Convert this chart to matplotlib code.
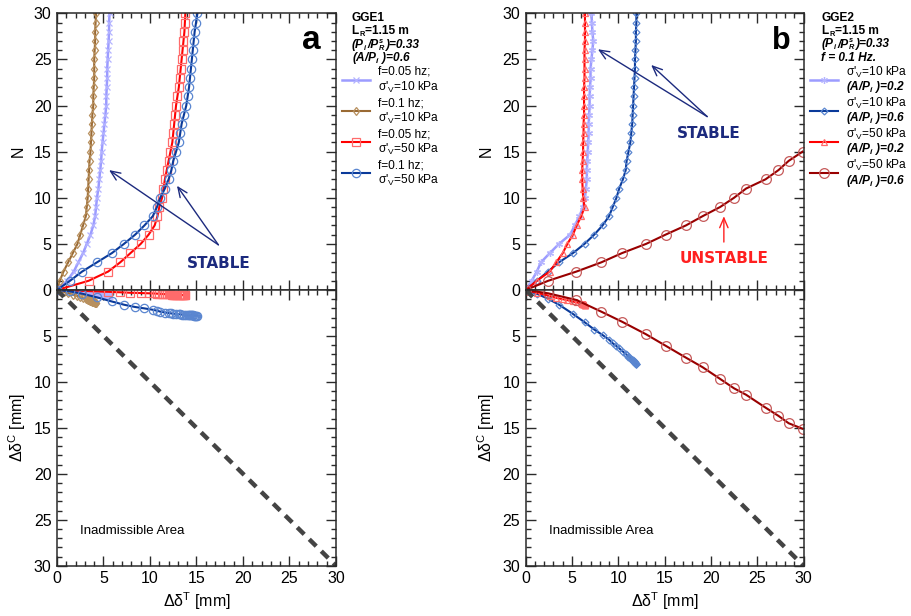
import matplotlib
matplotlib.use('Agg')
import matplotlib.pyplot as plt
from matplotlib.lines import Line2D
from matplotlib.ticker import MultipleLocator, FixedLocator, FixedFormatter

plt.rcParams['font.family'] = ['Liberation Sans', 'DejaVu Sans']
plt.rcParams['mathtext.fontset'] = 'custom'
plt.rcParams['mathtext.rm'] = 'Liberation Sans'
plt.rcParams['mathtext.it'] = 'Liberation Sans:italic:bold'
plt.rcParams['mathtext.bf'] = 'Liberation Sans:bold'

# ---------------- data: panel a (GGE1) ----------------
N_a = list(range(31))
a_lb_T = [0, 1.1, 1.8, 2.3, 2.8, 3.2, 3.6, 3.9, 4.1, 4.2, 4.3, 4.45, 4.55, 4.65, 4.75, 4.8,
          4.9, 5.0, 5.1, 5.2, 5.3, 5.3, 5.35, 5.4, 5.4, 5.45, 5.5, 5.55, 5.6, 5.6, 5.65]
a_lb_C = [0, 0.1, 0.17, 0.22, 0.27, 0.32, 0.36, 0.4, 0.42, 0.44, 0.45, 0.47, 0.49, 0.5, 0.52, 0.53,
          0.55, 0.56, 0.58, 0.6, 0.61, 0.62, 0.63, 0.64, 0.65, 0.66, 0.67, 0.68, 0.69, 0.7, 0.7]
a_br_T = [0, 0.3, 0.7, 1.2, 1.7, 2.2, 2.5, 2.8, 3.1, 3.2, 3.3, 3.35, 3.4, 3.45, 3.5, 3.6,
          3.65, 3.7, 3.75, 3.8, 3.9, 3.9, 3.95, 4.0, 4.0, 4.0, 4.05, 4.1, 4.1, 4.15, 4.2]
a_br_C = [0, 0.08, 0.2, 0.35, 0.5, 0.65, 0.75, 0.85, 0.95, 1.0, 1.05, 1.08, 1.1, 1.13, 1.15, 1.18,
          1.2, 1.22, 1.24, 1.26, 1.28, 1.3, 1.31, 1.32, 1.34, 1.35, 1.36, 1.38, 1.39, 1.4, 1.42]
a_rd_T = [0, 3.4, 5.5, 6.8, 7.9, 9.0, 9.85, 10.5, 10.8, 11.0, 11.3, 11.45, 11.6, 11.8, 12.0, 12.2,
          12.4, 12.5, 12.6, 12.7, 12.8, 12.95, 13.1, 13.2, 13.3, 13.4, 13.5, 13.6, 13.7, 13.75, 13.8]
a_rd_C = [0, 0.12, 0.2, 0.25, 0.3, 0.33, 0.36, 0.38, 0.4, 0.42, 0.43, 0.44, 0.45, 0.46, 0.47, 0.48,
          0.49, 0.5, 0.5, 0.51, 0.52, 0.52, 0.53, 0.54, 0.54, 0.55, 0.55, 0.56, 0.56, 0.57, 0.57]
a_bl_T = [0, 1.4, 2.7, 4.3, 5.9, 7.2, 8.4, 9.4, 10.3, 10.75, 11.1, 11.6, 12.0, 12.3, 12.5, 12.8,
          13.1, 13.25, 13.4, 13.65, 13.9, 14.05, 14.2, 14.3, 14.4, 14.5, 14.6, 14.7, 14.8, 14.95, 15.1]
a_bl_C = [0, 0.15, 0.4, 0.8, 1.25, 1.6, 1.85, 2.0, 2.15, 2.25, 2.35, 2.45, 2.5, 2.55, 2.58, 2.6,
          2.63, 2.65, 2.67, 2.69, 2.7, 2.72, 2.73, 2.74, 2.75, 2.76, 2.77, 2.78, 2.79, 2.8, 2.82]

# ---------------- data: panel b (GGE2) ----------------
N_b = list(range(31))
b_lb_T = [0, 0.65, 1.2, 1.65, 2.6, 3.6, 4.8, 5.3, 5.8, 6.2, 6.4, 6.5, 6.6, 6.6, 6.65, 6.7,
          6.75, 6.8, 6.8, 6.85, 6.9, 6.9, 6.95, 7.0, 7.0, 7.1, 7.2, 7.3, 7.2, 7.15, 7.1]
b_lb_Tc = [0, 0.3, 0.6, 0.9]
b_lb_C = [0, 0.1, 0.15, 0.2]
b_bl_T = [0, 1.2, 2.4, 3.6, 5.1, 6.35, 7.4, 8.3, 9.0, 9.4, 9.8, 10.1, 10.5, 10.8, 10.9, 11.1,
          11.3, 11.4, 11.5, 11.55, 11.6, 11.65, 11.7, 11.75, 11.8, 11.8, 11.85, 11.9, 11.9, 11.95, 11.95]
b_bl_C = [0, 0.4, 0.95, 1.6, 2.6, 3.5, 4.3, 4.9, 5.4, 5.8, 6.1, 6.35, 6.7, 6.95, 7.05, 7.25,
          7.4, 7.5, 7.6, 7.65, 7.7, 7.75, 7.8, 7.85, 7.9, 7.9, 7.95, 8.0, 8.0, 8.05, 8.05]
b_rd_T = [0, 1.2, 2.6, 3.3, 4.0, 4.5, 5.1, 5.5, 6.0, 6.35, 6.2, 6.15, 6.1, 6.1, 6.15, 6.2,
          6.2, 6.25, 6.25, 6.3, 6.3, 6.3, 6.3, 6.35, 6.35, 6.35, 6.35, 6.4, 6.4, 6.4, 6.4]
b_rd_C = [0, 0.3, 0.65, 0.85, 1.0, 1.1, 1.25, 1.35, 1.45, 1.5, 1.5, 1.5, 1.5, 1.52, 1.52, 1.53,
          1.54, 1.55, 1.55, 1.56, 1.56, 1.57, 1.57, 1.58, 1.58, 1.59, 1.59, 1.6, 1.6, 1.6, 1.6]
N_b_dr = list(range(16))
b_dr_T = [0, 2.43, 5.48, 8.17, 10.4, 13.0, 15.1, 17.3, 19.1, 21.0, 22.5, 23.8, 25.9, 27.3, 28.4, 29.9]
b_dr_C = [0, 0.36, 1.09, 2.36, 3.45, 4.82, 6.06, 7.36, 8.4, 9.68, 10.7, 11.4, 12.8, 13.7, 14.5, 15.1]

limit_line = [0, 30]
ticks = [0, 5, 10, 15, 20, 25, 30]

# ---------------- styles ----------------
LB, LBm = '#9c9cff', '#b4b4ff'
BR, BRm = '#9a6a34', '#b8905e'
RD, RDm = '#ff0000', '#ff6b6b'
BL, BLm = '#0a3a9a', '#5a86d0'
DR, DRm = '#990000', '#c65a5a'
NAVY = '#1c2a7e'
SPINE = '#2a2a2a'

fig = plt.figure(figsize=(9.12, 6.16), dpi=100)
W, H = 912.0, 616.0
renderer = fig.canvas.get_renderer()


def axes_px(x0, y0, x1, y1):
    return fig.add_axes([x0 / W, 1 - y1 / H, (x1 - x0) / W, (y1 - y0) / H])


def style(ax, top_panel):
    ax.set_xlim(0, 30)
    ax.set_ylim(0, 30)
    if not top_panel:
        ax.invert_yaxis()
    ax.xaxis.set_major_locator(FixedLocator(ticks))
    ax.yaxis.set_major_locator(FixedLocator(ticks))
    ax.xaxis.set_minor_locator(MultipleLocator(1))
    ax.yaxis.set_minor_locator(MultipleLocator(1))
    ax.tick_params(which='both', direction='in', top=True, right=True, color=SPINE,
                   labelsize=11.5, width=1.0, pad=4)
    ax.tick_params(which='major', length=7)
    ax.tick_params(which='minor', length=3.5)
    for s in ax.spines.values():
        s.set_color(SPINE)
        s.set_linewidth(1.1)
    if top_panel:
        ax.tick_params(labelbottom=False)
    else:
        ax.yaxis.set_major_formatter(FixedFormatter(['', '5', '10', '15', '20', '25', '30']))


def series(ax, x, y, color, mcolor, marker, ms, lw=1.5, mew=0.9):
    ax.plot(x, y, color=color, lw=lw, marker=marker, ms=ms, mfc='none', mec=mcolor, mew=mew,
            clip_on=True)


# ================= panel a =================
axa_t = axes_px(57, 13.3, 336, 290)
axa_b = axes_px(57, 290, 336, 565.7)
style(axa_t, True)
style(axa_b, False)

series(axa_t, a_lb_T, N_a, LB, LBm, 'x', 4.5, lw=1.8)
series(axa_t, a_br_T, N_a, BR, BRm, 'd', 4.5)
series(axa_t, a_rd_T, N_a, RD, RDm, 's', 6)
series(axa_t, a_bl_T, N_a, BL, BLm, 'o', 6)

series(axa_b, a_lb_T, a_lb_C, LB, LBm, 'x', 4.5, lw=1.8)
series(axa_b, a_br_T, a_br_C, BR, BRm, 'd', 4.5)
series(axa_b, a_rd_T, a_rd_C, RD, RDm, 's', 6)
series(axa_b, a_bl_T, a_bl_C, BL, BLm, 'o', 6)
axa_b.plot(limit_line, limit_line, color='#444444', lw=3.2, dashes=(2.2, 1.6))

axa_t.set_ylabel('N', fontsize=11.5, labelpad=6)
axa_b.set_ylabel('Δδ$^{\\mathrm{C}}$ [mm]', fontsize=11.5, labelpad=4)
axa_b.set_xlabel('Δδ$^{\\mathrm{T}}$ [mm]', fontsize=11.5, labelpad=3)
axa_b.text(2.5, 26.2, 'Inadmissible Area', fontsize=9.5, va='center', ha='left')
axa_t.text(27.3, 27.0, 'a', fontsize=24, fontweight='bold', ha='center', va='center')

axa_t.text(17.4, 2.9, 'STABLE', family='DejaVu Sans', fontweight='bold', fontsize=11,
           color=NAVY, ha='center', va='center')
for tip in [(5.6, 13.0), (12.9, 11.3)]:
    axa_t.annotate('', xy=tip, xytext=(17.35, 4.9),
                   arrowprops=dict(arrowstyle='->,head_length=0.7,head_width=0.3',
                                   color=NAVY, lw=1.0, shrinkA=0, shrinkB=0))

# ================= panel b =================
axb_t = axes_px(525.7, 13.3, 803.5, 290)
axb_b = axes_px(525.7, 290, 803.5, 565.7)
style(axb_t, True)
style(axb_b, False)

series(axb_t, b_lb_T, N_b, LB, LBm, (6, 2, 0), 5, lw=1.8)
series(axb_t, b_bl_T, N_b, BL, BLm, 'D', 3.5)
series(axb_t, b_rd_T, N_b, RD, RDm, '^', 5)
series(axb_t, b_dr_T, N_b_dr, DR, DRm, 'o', 7)

series(axb_b, b_lb_Tc, b_lb_C, LB, LBm, (6, 2, 0), 5, lw=1.8)
series(axb_b, b_bl_T, b_bl_C, BL, BLm, 'D', 3.5)
series(axb_b, b_rd_T, b_rd_C, RD, RDm, '^', 5)
series(axb_b, b_dr_T, b_dr_C, DR, DRm, 'o', 7)
axb_b.plot(limit_line, limit_line, color='#444444', lw=3.2, dashes=(2.2, 1.6))

axb_t.set_ylabel('N', fontsize=11.5, labelpad=6)
axb_b.set_ylabel('Δδ$^{\\mathrm{C}}$ [mm]', fontsize=11.5, labelpad=4)
axb_b.set_xlabel('Δδ$^{\\mathrm{T}}$ [mm]', fontsize=11.5, labelpad=3)
axb_b.text(2.5, 26.2, 'Inadmissible Area', fontsize=9.5, va='center', ha='left')
axb_t.text(27.6, 27.0, 'b', fontsize=22, fontweight='bold', ha='center', va='center')

axb_t.text(19.8, 17.0, 'STABLE', family='DejaVu Sans', fontweight='bold', fontsize=11,
           color=NAVY, ha='center', va='center')
for tip in [(7.8, 26.1), (13.55, 24.4)]:
    axb_t.annotate('', xy=tip, xytext=(19.6, 18.8),
                   arrowprops=dict(arrowstyle='->,head_length=0.7,head_width=0.3',
                                   color=NAVY, lw=1.0, shrinkA=0, shrinkB=0))
axb_t.text(21.4, 3.4, 'UNSTABLE', family='DejaVu Sans', fontweight='bold', fontsize=11,
           color='#ff2020', ha='center', va='center')
axb_t.annotate('', xy=(21.4, 8.0), xytext=(21.4, 5.2),
               arrowprops=dict(arrowstyle='->,head_length=0.7,head_width=0.3',
                               color='#ff2020', lw=1.0, shrinkA=0, shrinkB=0))

# ================= headers and legends =================
FS = 8.6


def ftext(x, y, s, **kw):
    fig.text(x / W, 1 - y / H, s, fontsize=FS, va='center', ha='left', **kw)


def rich(x, y, parts, **kw):
    """parts: list of (text, kind); kind in n / sub / sup / supstack / gap"""
    cur = x
    prev_start = x
    prev_w = 0.0
    for s, kind in parts:
        if kind == 'gap':
            cur += s
            continue
        if kind == 'n':
            fs, dy, x0 = FS, 0.0, cur
        elif kind == 'sub':
            fs, dy, x0 = FS * 0.62, 3.2, cur
        elif kind == 'sup':
            fs, dy, x0 = FS * 0.62, -3.6, cur
        else:  # superscript stacked over previous subscript
            fs, dy, x0 = FS * 0.62, -3.6, prev_start
        t = fig.text(x0 / W, 1 - (y + dy) / H, s, fontsize=fs, va='center', ha='left', **kw)
        w = t.get_window_extent(renderer).width
        if kind == 'supstack':
            cur = prev_start + max(prev_w, w) + 0.4
        else:
            prev_start, prev_w = x0, w
            cur = x0 + w + 0.4


def entry(x0, x1, y, color, mcolor, marker, ms, lw=1.5):
    fig.add_artist(Line2D([x0 / W, x1 / W], [1 - y / H, 1 - y / H], color=color, lw=lw,
                          transform=fig.transFigure))
    fig.add_artist(Line2D([(x0 + x1) / 2 / W], [1 - y / H], color=color, marker=marker, ms=ms,
                          mfc='none', mec=mcolor, mew=0.9, transform=fig.transFigure))


BI = dict(fontweight='bold', fontstyle='italic')
LR_parts = [('L', 'n'), ('R', 'sub'), ('=1.15 m', 'n')]
PR_parts = [('(P', 'n'), ('i', 'sub'), (1.5, 'gap'), ('/P', 'n'), ('R', 'sub'), ('s', 'supstack'),
            (')=0.33', 'n')]

# panel a header
hx = 351.5
ftext(hx, 18, 'GGE1', fontweight='bold')
rich(hx, 31, LR_parts, fontweight='bold')
rich(hx, 45, PR_parts, **BI)
ftext(hx, 58.5, '(A/P$_{i}$ )=0.6', **BI)

a_labels = [('f=0.05 hz;', "σ'$_{\\mathrm{V}}$=10 kPa"),
            ('f=0.1 hz;', "σ'$_{\\mathrm{V}}$=10 kPa"),
            ('f=0.05 hz;', "σ'$_{\\mathrm{V}}$=50 kPa"),
            ('f=0.1 hz;', "σ'$_{\\mathrm{V}}$=50 kPa")]
a_styles = [(LB, LBm, 'x', 4.5, 1.8), (BR, BRm, 'd', 4.5, 1.5),
            (RD, RDm, 's', 6, 1.5), (BL, BLm, 'o', 6, 1.5)]
for i, (lab, st) in enumerate(zip(a_labels, a_styles)):
    y0 = 72 + i * 31.2
    entry(341.7, 370, y0 + 7.5, st[0], st[1], st[2], st[3], st[4])
    ftext(378, y0, lab[0])
    ftext(378, y0 + 15, lab[1])

# panel b header
hx = 821.5
ftext(hx, 18, 'GGE2', fontweight='bold')
rich(hx, 31, LR_parts, fontweight='bold')
rich(hx, 44.5, PR_parts, **BI)
ftext(hx, 58, 'f = 0.1 Hz.', **BI)

b_labels = [("σ'$_{\\mathrm{V}}$=10 kPa", '(A/P$_{i}$ )=0.2'),
            ("σ'$_{\\mathrm{V}}$=10 kPa", '(A/P$_{i}$ )=0.6'),
            ("σ'$_{\\mathrm{V}}$=50 kPa", '(A/P$_{i}$ )=0.2'),
            ("σ'$_{\\mathrm{V}}$=50 kPa", '(A/P$_{i}$ )=0.6')]
b_styles = [(LB, LBm, (6, 2, 0), 5, 1.8), (BL, BLm, 'D', 3.5, 1.5),
            (RD, RDm, '^', 5, 1.5), (DR, DRm, 'o', 7, 1.5)]
for i, (lab, st) in enumerate(zip(b_labels, b_styles)):
    y0 = 72 + i * 31.2
    entry(810, 838, y0 + 7.5, st[0], st[1], st[2], st[3], st[4])
    ftext(846, y0, lab[0])
    ftext(846, y0 + 15, lab[1], **BI)

fig.savefig('out.png', dpi=100)
